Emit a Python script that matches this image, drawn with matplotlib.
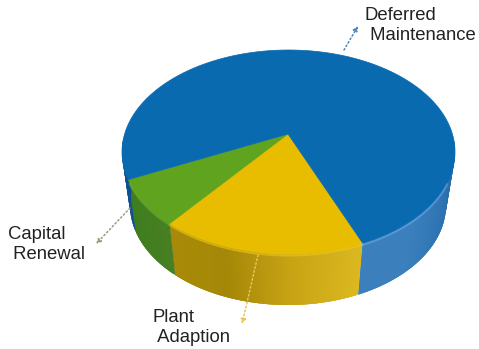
import numpy as np
import matplotlib
matplotlib.use("Agg")
import matplotlib.pyplot as plt
from matplotlib.colors import to_rgb

# slices in drawing order, clockwise from the front right edge
Labels = ["Plant\n Adaption", "Capital\n Renewal", "Deferred\n Maintenance"]
Shares = [20, 8, 72]
TopColors = ["#e8bd00", "#5fa31e", "#0a6ab0"]
SideColors = [
    ["#dcb820", "#c9a515", "#a68808", "#a88a08"],
    ["#487f22", "#3d7d1d"],
    ["#3b80bd", "#3b80bd", "#2f75b3", "#2468a8"],
]
BlueBackSide = "#0f4f90"
EdgeColors = ["#f0c81c", "#74b030", "#6aa8e0"]
LabelPos = [(153, 309), (8, 226), (365, 7)]
ArrowStart = [(258, 255), (130, 208), (344, 50)]
ArrowEnd = [(242, 324), (96, 244), (358, 26)]
ArrowColors = ["#e6c55a", "#9a9a80", "#4f86b8"]

StartAngle = -63.5
ApexX, ApexY = 288, 134
# rim of the top face and the smaller rim at the foot of the wall
TopRim = (288.5, 152, 166.5, 102)
FootRim = (288, 205, 158, 100)


def Rim(Shape, T):
    """ Points on an elliptical rim for angles in degrees """
    R = np.radians(T)
    return Shape[0] + Shape[2] * np.cos(R), Shape[1] - Shape[3] * np.sin(R)


def Blend(Stops, F):
    Stops = np.array([to_rgb(S) for S in Stops])
    Pos = np.linspace(0, 1, len(Stops))
    return [np.interp(F, Pos, Stops[:, I]) for I in range(3)]


fig = plt.figure(figsize=(4.79, 3.49), dpi=100)
ax = fig.add_axes([0, 0, 1, 1])
ax.set_xlim(0, 479)
ax.set_ylim(349, 0)
ax.axis("off")

Edges = StartAngle - np.cumsum([0] + Shares) * 3.6

# side wall first, the top face covers whatever faces away
for I in range(len(Shares)):
    A, B = Edges[I], Edges[I + 1]
    Steps = max(int(abs(B - A)), 2) * 2
    Ts = np.linspace(A, B, Steps + 1)
    for J in range(Steps):
        Mid = (Ts[J] + Ts[J + 1]) / 2
        if np.sin(np.radians(Mid)) > 0.12:
            continue
        Pair = np.array([Ts[J], max(Ts[J + 1] - 1.0, B)])
        X, Y = Rim(TopRim, Pair)
        X2, Y2 = Rim(FootRim, Pair)
        if I == 2 and Mid > -300:
            Colour = BlueBackSide
        elif I == 2:
            # blue wraps round the back, the front right part runs light to dark
            Colour = Blend(SideColors[I], np.clip((Mid - Edges[3]) / 62, 0, 1))
        else:
            Colour = Blend(SideColors[I], J / Steps)
        ax.fill([X[0], X[1], X2[1], X2[0]], [Y[0], Y[1], Y2[1], Y2[0]],
                color=Colour, lw=0, zorder=2)

# top face
for I in range(len(Shares)):
    Ts = np.linspace(Edges[I], Edges[I + 1], 300)
    X, Y = Rim(TopRim, Ts)
    ax.fill(np.r_[ApexX, X], np.r_[ApexY, Y], color=TopColors[I], lw=0.5, zorder=3)
    Front = np.sin(np.radians(Ts)) < -0.3
    ax.plot(np.where(Front, X, np.nan), np.where(Front, Y + 1.5, np.nan),
            color=EdgeColors[I], lw=1.4, alpha=0.6, zorder=4)

for I in range(len(Labels)):
    ax.annotate("", xy=ArrowEnd[I], xytext=ArrowStart[I], zorder=5,
                arrowprops=dict(arrowstyle="-|>", linestyle=":", lw=1.1,
                                color=ArrowColors[I], mutation_scale=7,
                                shrinkA=0, shrinkB=0))
    ax.text(LabelPos[I][0], LabelPos[I][1], Labels[I], family="Liberation Sans",
            fontsize=13.3, color="#222222", va="top", ha="left", linespacing=1.2, zorder=6)

fig.savefig("out.png", dpi=100)
